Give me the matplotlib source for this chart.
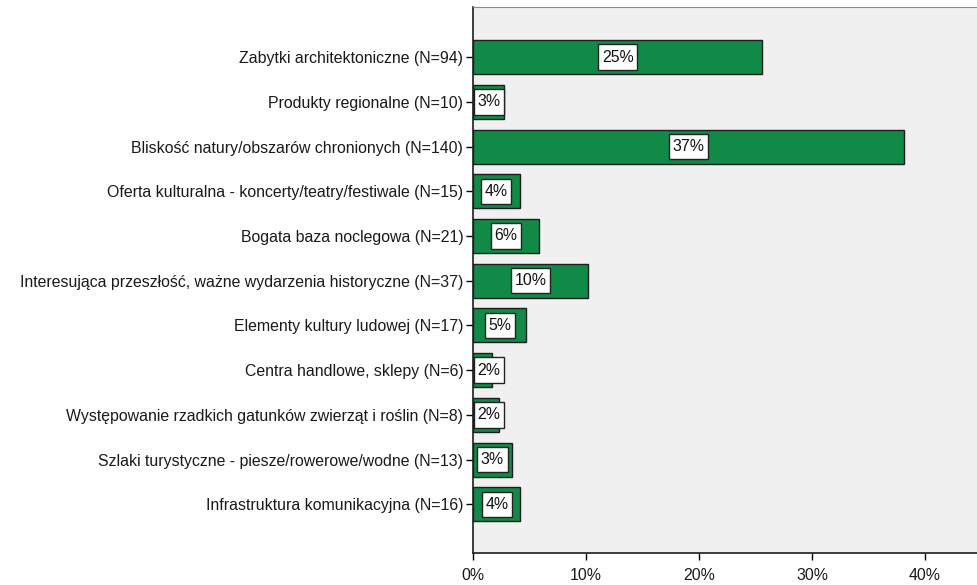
import matplotlib
matplotlib.use("Agg")
import matplotlib.pyplot as plt
from matplotlib.ticker import FuncFormatter

categories = [
    "Zabytki architektoniczne (N=94)",
    "Produkty regionalne (N=10)",
    "Bliskość natury/obszarów chronionych (N=140)",
    "Oferta kulturalna - koncerty/teatry/festiwale (N=15)",
    "Bogata baza noclegowa (N=21)",
    "Interesująca przeszłość, ważne wydarzenia historyczne (N=37)",
    "Elementy kultury ludowej (N=17)",
    "Centra handlowe, sklepy (N=6)",
    "Występowanie rzadkich gatunków zwierząt i roślin (N=8)",
    "Szlaki turystyczne - piesze/rowerowe/wodne (N=13)",
    "Infrastruktura komunikacyjna (N=16)",
]
values = [25.6, 2.77, 38.1, 4.15, 5.8, 10.15, 4.7, 1.7, 2.3, 3.45, 4.2]
labels = ["25%", "3%", "37%", "4%", "6%", "10%", "5%", "2%", "2%", "3%", "4%"]
xticks = [0, 10, 20, 30, 40]

plt.rcParams["font.family"] = ["Liberation Sans", "DejaVu Sans"]
FS = 11.4

fig = plt.figure(figsize=(9.77, 5.85), dpi=100)
ax = fig.add_axes([473 / 977, 32 / 585, 504 / 977, 546 / 585])
ax.set_facecolor("#f0f0f0")

ypos = list(range(len(categories)))
ax.barh(ypos, values, height=0.76, color="#118a47", edgecolor="#1e1e1e", linewidth=1.0, zorder=2)

for y, v, lab in zip(ypos, values, labels):
    # keep the label box inside the plot for very short bars
    x = max(v / 2, 1.42)
    ax.text(x, y, lab, ha="center", va="center", fontsize=FS, color="#111111", zorder=3,
            bbox=dict(boxstyle="square,pad=0.22", facecolor="white", edgecolor="#222222",
                      linewidth=1.0, mutation_aspect=1.5))

ax.set_xlim(0, 504 / 11.3)
ax.set_ylim(len(categories) - 1 + 1.09, -1.12)
ax.set_yticks(ypos)
ax.set_yticklabels(categories, fontsize=FS, color="#1a1a1a")
ax.set_xticks(xticks)
ax.xaxis.set_major_formatter(FuncFormatter(lambda v, p: f"{v:.0f}%"))
ax.tick_params(axis="x", labelsize=FS, labelcolor="#1a1a1a", length=5, width=1, direction="out", pad=6)
ax.tick_params(axis="y", length=5, width=1, direction="out", pad=2)

ax.spines["right"].set_visible(False)
ax.spines["top"].set_color("#8c8c8c")
ax.spines["left"].set_color("#1e1e1e")
ax.spines["bottom"].set_color("#1e1e1e")
ax.spines["left"].set_linewidth(1.2)
ax.spines["bottom"].set_linewidth(1.2)

fig.savefig("out.png", dpi=100)
